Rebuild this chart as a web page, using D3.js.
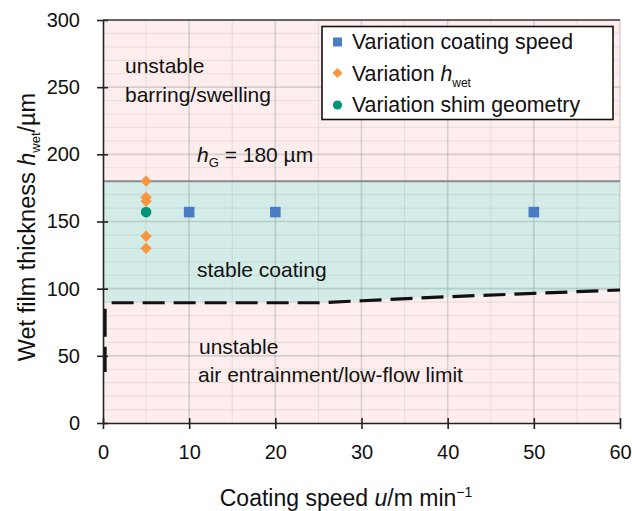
<!DOCTYPE html>
<html><head><meta charset="utf-8">
<script src="https://cdn.jsdelivr.net/npm/d3@7"></script>
<style>body{margin:0;background:#fff}svg{display:block;font-family:"Liberation Sans",Arial,sans-serif}</style>
</head><body>
<svg id="c" width="632" height="511"></svg>
<script>
// ---- data ----
const xTicks = [0,10,20,30,40,50,60];
const yTicks = [0,50,100,150,200,250,300];
const speedX = [10,20,50];
const speedY = [157,157,157];
const hwetX = [5,5,5,5,5];
const hwetY = [180,168,165,139,130];
const shimX = [5];
const shimY = [157];
const limitX = [1,10,20,25,30,40,50,60];
const limitY = [89.5,89.5,89.5,89.5,91,94,96.5,99];
const hG = 180;
const leftLimitY = [85,38];

const FONT = "Liberation Sans, Arial, sans-serif";
const svg = d3.select("#c");
const L=103,R=620,T=20,B=423;
const x = d3.scaleLinear().domain([0,60]).range([L,R]);
const y = d3.scaleLinear().domain([0,300]).range([B,T]);

// backgrounds
svg.append("rect").attr("x",L).attr("y",T).attr("width",R-L).attr("height",B-T).attr("fill","#fdeeed");
const band = limitX.map((v,i)=>[v,limitY[i]]);
band.unshift([0,limitY[0]]);
const area = d3.area().x(d=>x(d[0])).y0(d=>y(d[1])).y1(y(hG));
svg.append("path").datum(band).attr("d",area).attr("fill","#d3ece7");

// grid
const g = svg.append("g");
d3.range(0,61,5).forEach(v=>{
  if(v===0) return;
  g.append("line").attr("x1",x(v)).attr("x2",x(v)).attr("y1",T).attr("y2",B)
   .attr("stroke", v%10===0?"rgba(110,120,120,0.26)":"rgba(140,140,140,0.15)").attr("stroke-width",v%10===0?1.6:1.2);
});
d3.range(0,301,10).forEach(v=>{
  if(v===0||v===300) return;
  g.append("line").attr("x1",L).attr("x2",R).attr("y1",y(v)).attr("y2",y(v))
   .attr("stroke", v%50===0?"rgba(110,120,120,0.26)":"rgba(140,140,140,0.15)").attr("stroke-width",v%50===0?1.6:1.2);
});

// hG line
svg.append("line").attr("x1",L).attr("x2",R).attr("y1",y(hG)).attr("y2",y(hG)).attr("stroke","#8a8a8a").attr("stroke-width",2);

// limit dashed line
svg.append("path").datum(limitX.map((v,i)=>[v,limitY[i]]))
  .attr("d",d3.line().x(d=>x(d[0])).y(d=>y(d[1])))
  .attr("fill","none").attr("stroke","#111").attr("stroke-width",3.2).attr("stroke-dasharray","22,9");
svg.append("line").attr("x1",x(0.25)).attr("x2",x(0.25)).attr("y1",y(leftLimitY[0])).attr("y2",y(leftLimitY[1]))
  .attr("stroke","#111").attr("stroke-width",3).attr("stroke-dasharray","28,10");

// axes
const xa = svg.append("g").attr("transform",`translate(0,${B})`)
  .call(d3.axisBottom(x).tickValues(xTicks).tickSizeInner(6).tickSizeOuter(0).tickPadding(16));
const ya = svg.append("g").attr("transform",`translate(${L},0)`)
  .call(d3.axisLeft(y).tickValues(yTicks).tickSizeInner(6).tickSizeOuter(0).tickPadding(17));
[xa,ya].forEach(a=>{
  a.select(".domain").attr("stroke","#222").attr("stroke-width",1.6);
  a.selectAll(".tick line").attr("stroke","#222").attr("stroke-width",1.6);
  a.selectAll(".tick text").attr("font-size",20).attr("fill","#111").attr("font-family",FONT);
});
xa.selectAll(".tick line").attr("y1",-5);
ya.selectAll(".tick line").attr("x1",5);
// top border
svg.append("line").attr("x1",L).attr("x2",R).attr("y1",T).attr("y2",T).attr("stroke","#333").attr("stroke-width",1.6);

// markers
const blue="#4a7cc4", orange="#f7963f", teal="#00957a";
svg.selectAll(".sq").data(speedX).enter().append("rect")
  .attr("x",(d)=>x(d)-5.3).attr("y",(d,i)=>y(speedY[i])-5.3).attr("width",10.6).attr("height",10.6).attr("fill",blue);
svg.selectAll(".dm").data(hwetX).enter().append("path")
  .attr("d",d3.symbol(d3.symbolSquare,64))
  .attr("transform",(d,i)=>`translate(${x(d)},${y(hwetY[i])}) rotate(45)`).attr("fill",orange);
svg.selectAll(".ci").data(shimX).enter().append("circle")
  .attr("cx",d=>x(d)).attr("cy",(d,i)=>y(shimY[i])).attr("r",5.3).attr("fill",teal);

// annotations
const AF = 21;
const txt=(tx,ty,s)=>svg.append("text").attr("x",tx).attr("y",ty).attr("font-size",AF).attr("fill","#111").text(s);
txt(125,73,"unstable");
txt(125,102,"barring/swelling");
const hg = svg.append("text").attr("x",197).attr("y",162).attr("font-size",AF).attr("fill","#111");
hg.append("tspan").attr("font-style","italic").text("h");
hg.append("tspan").attr("font-size",13).attr("dy",5).text("G");
hg.append("tspan").attr("dy",-5).text(" = 180 µm");
txt(197,277,"stable coating");
txt(199,354,"unstable");
txt(198,382,"air entrainment/low-flow limit");

// legend
const lg = svg.append("g");
lg.append("rect").attr("x",322).attr("y",26.5).attr("width",291).attr("height",93).attr("fill","#fff").attr("stroke","#111").attr("stroke-width",1.6);
lg.append("rect").attr("x",333).attr("y",37.5).attr("width",9).attr("height",9).attr("fill",blue);
lg.append("path").attr("d",d3.symbol(d3.symbolSquare,50)).attr("transform","translate(337.5,73) rotate(45)").attr("fill",orange);
lg.append("circle").attr("cx",337.5).attr("cy",105).attr("r",4.6).attr("fill",teal);
const lt=(ty)=>lg.append("text").attr("x",352).attr("y",ty).attr("font-size",21.3).attr("fill","#111");
lt(49).text("Variation coating speed");
const t2=lt(81); t2.append("tspan").text("Variation "); t2.append("tspan").attr("font-style","italic").text("h");
t2.append("tspan").attr("font-size",12).attr("dy",6).text("wet");
lt(112).text("Variation shim geometry");

// axis titles
const xt = svg.append("text").attr("x",346).attr("y",506).attr("text-anchor","middle").attr("font-size",23).attr("fill","#111");
xt.append("tspan").text("Coating speed ");
xt.append("tspan").attr("font-style","italic").text("u");
xt.append("tspan").text("/m min");
xt.append("tspan").attr("font-size",14).attr("dy",-9).text("−1");
const yt = svg.append("text").attr("transform","translate(35,227) rotate(-90)").attr("text-anchor","middle").attr("font-size",23.5).attr("fill","#111");
yt.append("tspan").text("Wet film thickness ");
yt.append("tspan").attr("font-style","italic").text("h");
yt.append("tspan").attr("font-size",13).attr("dy",5).text("wet");
yt.append("tspan").attr("dy",-5).text("/µm");
</script>
</body></html>
